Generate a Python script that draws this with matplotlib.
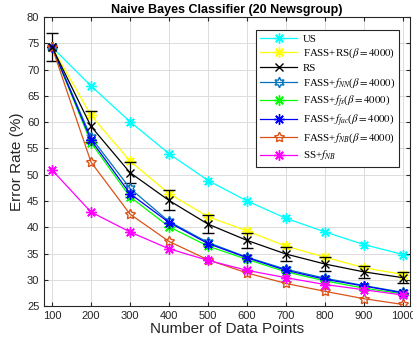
import matplotlib
matplotlib.use('Agg')
from matplotlib import pyplot as plt
import numpy as np

n_points = [100, 200, 300, 400, 500, 600, 700, 800, 900, 1000]

us = [74.3, 66.9, 60.1, 54.0, 48.9, 45.0, 41.7, 39.1, 36.7, 34.8]
fass_rs = [74.3, 61.3, 52.6, 46.4, 42.0, 39.3, 36.4, 34.3, 32.3, 31.0]
rs = [74.3, 59.2, 50.4, 45.1, 40.6, 37.5, 34.9, 33.0, 31.5, 30.4]
rs_err = [2.7, 2.9, 2.0, 1.9, 1.7, 1.5, 1.35, 1.25, 1.2, 1.1]
fass_nn = [74.3, 57.1, 47.4, 41.1, 37.1, 34.3, 32.0, 30.3, 28.9, 27.6]
fass_fs = [74.3, 56.1, 45.8, 40.1, 36.4, 33.9, 31.5, 29.8, 28.4, 27.3]
fass_fac = [74.3, 56.6, 46.4, 40.9, 36.9, 34.2, 31.8, 30.1, 28.8, 27.5]
fass_nb = [74.3, 52.4, 42.5, 37.3, 33.8, 31.3, 29.3, 27.8, 26.4, 25.3]
ss_nb = [50.9, 42.9, 39.1, 35.9, 33.7, 31.8, 30.4, 29.1, 28.1, 27.1]

plt.rcParams['font.family'] = ['Liberation Sans', 'DejaVu Sans']
plt.rcParams['mathtext.fontset'] = 'stix'

fig = plt.figure(figsize=(4.13, 3.49), dpi=100)
ax = fig.add_axes([0.107, 0.123, 0.886, 0.828])

ast = (8, 2, 0)
lw = 0.9
ms = 7.5
h_us, = ax.plot(n_points, us, color='#00FFFF', marker=ast, ms=ms, lw=lw, label='US')
h_frs, = ax.plot(n_points, fass_rs, color='#FFFF00', marker=ast, ms=ms, lw=lw,
                 label=r'FASS+RS($\beta = 4000$)')
h_rs = ax.errorbar(n_points, rs, yerr=rs_err, color='black', marker='x', ms=6, lw=lw,
                   capsize=4, elinewidth=0.9, label='RS')
h_nn, = ax.plot(n_points, fass_nn, color='#0072BD', marker=(6, 1, 0), ms=ms, lw=lw,
                fillstyle='none', label=r'FASS+$f_{NN}$($\beta = 4000$)')
h_fs, = ax.plot(n_points, fass_fs, color='#00FF00', marker=ast, ms=ms, lw=lw,
                label=r'FASS+$f_{fs}$($\beta = 4000$)')
h_fac, = ax.plot(n_points, fass_fac, color='#0000FF', marker=ast, ms=ms, lw=lw,
                 label=r'FASS+$f_{fac}$($\beta = 4000$)')
h_nb, = ax.plot(n_points, fass_nb, color='#D95319', marker=(5, 1, 0), ms=ms, lw=lw,
                fillstyle='none', label=r'FASS+$f_{NB}$($\beta = 4000$)')
h_ss, = ax.plot(n_points, ss_nb, color='#FF00FF', marker=ast, ms=ms, lw=lw,
                label=r'SS+$f_{NB}$')

ax.set_xlim(80, 1018)
ax.set_ylim(25, 80)
ax.set_xticks(n_points)
ax.set_yticks(np.arange(25, 81, 5))
ax.tick_params(direction='in', top=True, right=True, labelsize=8,
               colors='#262626', length=3)
ax.grid(True, color='#dcdcdc', lw=0.7)
for s in ax.spines.values():
    s.set_color('#262626')
    s.set_linewidth(0.8)

ax.set_xlabel('Number of Data Points', fontsize=11, color='#262626', labelpad=1)
ax.set_ylabel('Error Rate (%)', fontsize=11, color='#262626', labelpad=2)
ax.set_title('Naive Bayes Classifier (20 Newsgroup)', fontsize=9,
             fontweight='bold', pad=3)

handles = [h_us, h_frs, h_rs[0], h_nn, h_fs, h_fac, h_nb, h_ss]
labels = [h.get_label() for h in [h_us, h_frs]] + ['RS'] + \
         [h.get_label() for h in [h_nn, h_fs, h_fac, h_nb, h_ss]]
leg = ax.legend(handles, labels, loc='upper right',
                prop={'family': 'Liberation Serif', 'size': 7.8},
                fancybox=False, edgecolor='#262626', framealpha=1,
                handlelength=3.4, handletextpad=0.5, labelspacing=0.3,
                borderpad=0.4, bbox_to_anchor=(0.985, 0.975))
leg.get_frame().set_linewidth(0.8)

plt.savefig('out.png', dpi=100)
